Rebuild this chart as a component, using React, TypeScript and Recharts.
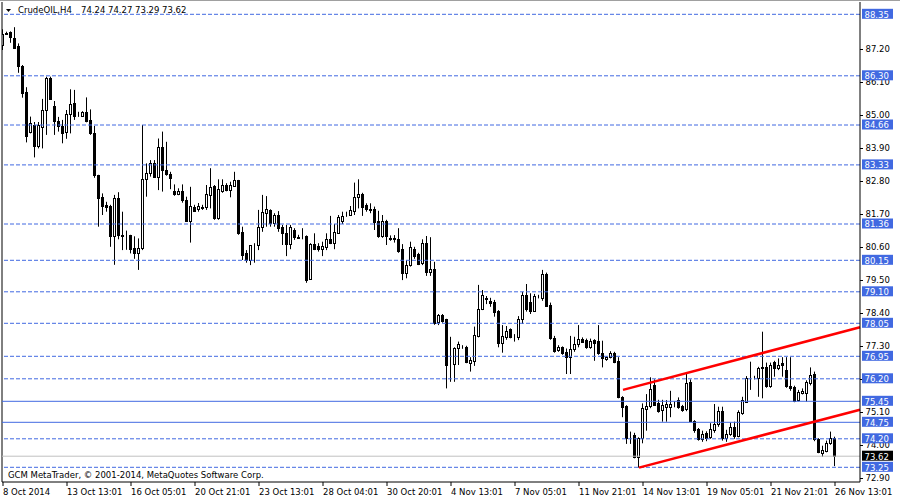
import React from 'react';
import { ComposedChart, Bar, XAxis, YAxis, ReferenceLine } from 'recharts';

const opens = [
  87.32, 87.73, 87.76, 87.55, 87.29, 86.63, 85.76, 84.42, 84.65, 83.97,
  84.60, 85.16, 86.24, 85.29, 84.79, 84.63, 84.42, 85.02, 85.38, 85.00,
  84.97, 85.08, 84.83, 84.38, 82.99, 82.27, 81.98, 81.96, 80.96, 82.22,
  80.99, 80.99, 80.99, 80.55, 80.38, 80.57, 82.85, 83.05, 83.38, 82.94,
  83.94, 83.16, 83.03, 82.45, 82.37, 82.45, 82.15, 81.46, 81.94, 81.85,
  81.92, 81.92, 82.33, 82.62, 81.55, 82.47, 82.66, 82.49, 82.64, 82.83,
  81.09, 80.38, 80.16, 80.66, 80.66, 81.25, 81.72, 81.83, 81.40, 81.66,
  81.25, 81.05, 80.69, 81.16, 80.92, 80.91, 80.96, 79.52, 80.69, 80.63,
  80.52, 80.60, 80.85, 80.74, 81.07, 81.47, 81.66, 81.66, 81.81, 82.25,
  82.36, 82.00, 81.85, 81.85, 81.47, 80.96, 81.47, 80.88, 80.90, 80.85,
  80.52, 79.72, 79.99, 80.52, 80.35, 80.05, 80.74, 79.77, 79.85, 78.10,
  78.33, 78.18, 76.69, 76.69, 77.22, 77.27, 77.27, 76.74, 76.80, 77.63,
  78.52, 78.86, 78.80, 78.75, 78.47, 77.40, 77.60, 77.85, 77.63, 77.58,
  78.21, 78.99, 78.77, 78.47, 78.94, 78.88, 79.69, 78.66, 77.55, 77.16,
  77.25, 77.10, 76.92, 77.21, 77.36, 77.52, 77.49, 77.25, 77.49, 77.47,
  77.07, 76.85, 76.93, 77.05, 76.79, 75.58, 75.29, 74.33, 74.33, 73.58,
  74.22, 75.18, 75.29, 75.99, 75.40, 75.16, 75.27, 75.27, 75.36, 75.50,
  75.29, 75.18, 76.10, 74.80, 74.52, 74.18, 74.38, 74.25, 74.49, 74.69,
  75.14, 74.22, 74.36, 74.58, 74.29, 75.07, 75.44, 76.25, 76.25, 76.22,
  76.55, 76.58, 75.97, 76.76, 76.57, 76.74, 76.49, 75.97, 75.94, 75.50,
  75.72, 75.74, 76.05, 76.36, 74.18, 73.74, 73.80, 74.05, 74.24,
];
const highs = [
  87.85, 87.77, 87.78, 87.92, 87.38, 86.66, 85.92, 84.94, 84.76, 84.76,
  85.53, 86.27, 86.27, 85.46, 84.93, 84.83, 85.16, 85.85, 85.83, 85.10,
  85.12, 85.58, 85.18, 84.63, 83.00, 82.38, 82.10, 82.00, 82.33, 82.42,
  81.77, 81.14, 81.00, 80.95, 80.88, 84.66, 83.38, 83.49, 83.49, 84.21,
  84.44, 84.10, 83.10, 82.68, 82.55, 82.68, 82.27, 82.60, 82.00, 82.06,
  82.00, 82.66, 83.22, 82.66, 82.85, 82.85, 82.72, 82.77, 83.10, 82.83,
  81.27, 80.49, 80.66, 80.72, 81.83, 82.33, 82.29, 81.85, 81.72, 81.79,
  81.33, 81.33, 81.33, 81.22, 81.00, 81.22, 80.98, 80.72, 81.05, 80.72,
  80.77, 81.05, 81.63, 81.36, 81.66, 81.77, 81.77, 81.96, 82.74, 82.85,
  82.40, 82.05, 82.05, 81.94, 81.80, 81.66, 81.50, 80.98, 80.99, 81.22,
  80.69, 80.16, 80.77, 80.60, 80.40, 80.85, 80.96, 80.92, 80.10, 78.36,
  78.36, 78.20, 77.60, 77.25, 77.44, 77.32, 77.30, 76.92, 77.94, 79.33,
  79.16, 78.96, 78.90, 78.83, 78.49, 77.99, 77.96, 77.88, 77.69, 78.29,
  79.10, 79.36, 79.05, 79.03, 79.00, 79.83, 79.74, 78.74, 77.63, 77.32,
  77.28, 77.21, 77.63, 77.60, 77.99, 77.58, 77.54, 77.54, 77.52, 77.99,
  77.47, 76.95, 77.12, 77.10, 76.92, 75.62, 75.32, 74.44, 74.40, 74.25,
  75.38, 75.69, 76.25, 76.18, 75.50, 75.50, 75.49, 75.80, 75.45, 75.58,
  75.33, 76.36, 76.18, 74.82, 74.56, 74.47, 74.45, 74.72, 75.36, 75.27,
  75.27, 74.50, 74.74, 74.77, 75.15, 75.60, 76.29, 76.77, 76.30, 76.60,
  77.77, 76.74, 76.74, 76.80, 76.88, 76.92, 76.92, 76.92, 75.97, 75.83,
  75.88, 76.15, 76.58, 76.44, 74.22, 73.97, 74.14, 74.44, 74.27,
];
const lows = [
  87.16, 87.66, 87.40, 87.20, 86.40, 85.57, 84.08, 84.38, 83.58, 83.88,
  83.88, 84.33, 85.50, 84.33, 84.44, 84.05, 84.20, 84.38, 84.83, 84.93,
  84.94, 84.75, 84.33, 82.90, 81.27, 81.66, 81.77, 80.60, 80.00, 80.85,
  80.49, 80.50, 80.38, 80.20, 79.83, 80.49, 82.27, 82.94, 82.90, 82.49,
  82.44, 82.97, 82.52, 82.30, 82.32, 82.07, 81.44, 80.74, 81.77, 81.77,
  81.83, 81.83, 81.88, 81.50, 81.50, 82.40, 82.45, 82.25, 82.60, 81.00,
  80.16, 80.07, 79.99, 80.07, 80.49, 81.10, 81.27, 81.27, 81.27, 81.10,
  80.66, 80.29, 80.52, 80.83, 80.86, 80.85, 79.40, 79.50, 80.49, 80.44,
  80.29, 80.49, 80.69, 80.52, 81.05, 81.36, 81.60, 81.63, 81.66, 81.88,
  81.63, 81.77, 81.72, 81.16, 80.90, 80.90, 80.66, 80.80, 80.74, 80.40,
  79.49, 79.55, 79.94, 80.20, 79.99, 79.99, 79.63, 79.63, 78.00, 77.99,
  78.07, 75.88, 76.10, 76.10, 76.66, 77.20, 76.72, 76.44, 76.63, 77.58,
  78.49, 78.69, 78.60, 78.27, 77.25, 77.07, 77.50, 77.55, 77.44, 77.49,
  78.03, 78.44, 78.36, 78.44, 78.88, 78.80, 78.60, 77.50, 77.07, 77.10,
  77.00, 76.36, 76.36, 77.10, 77.25, 77.40, 77.20, 77.20, 76.80, 77.00,
  76.58, 76.80, 76.88, 76.72, 75.55, 74.92, 74.03, 74.03, 73.55, 73.24,
  74.05, 74.47, 75.22, 75.30, 75.07, 74.77, 74.77, 74.92, 75.25, 75.20,
  75.10, 75.12, 74.78, 74.40, 74.14, 74.10, 74.12, 74.20, 74.40, 74.60,
  74.14, 74.10, 74.30, 74.20, 74.25, 75.00, 75.40, 75.83, 76.18, 75.60,
  75.55, 75.90, 75.90, 76.27, 76.49, 76.27, 75.90, 75.80, 75.42, 75.45,
  75.68, 75.44, 75.98, 74.12, 73.72, 73.60, 73.75, 74.00, 73.29,
];
const closes = [
  87.69, 87.70, 87.58, 87.23, 86.64, 85.74, 84.30, 84.72, 83.97, 84.65,
  85.16, 86.24, 85.54, 84.80, 84.63, 84.40, 85.02, 85.35, 84.96, 84.98,
  85.08, 84.80, 84.38, 82.99, 82.24, 81.96, 81.94, 80.96, 82.24, 80.99,
  80.97, 80.98, 80.52, 80.38, 80.57, 82.85, 83.05, 83.38, 82.94, 83.94,
  83.16, 83.03, 82.90, 82.37, 82.45, 82.15, 81.46, 81.96, 81.80, 81.96,
  81.91, 82.36, 82.60, 81.55, 82.52, 82.66, 82.49, 82.66, 82.83, 81.05,
  80.33, 80.16, 80.66, 80.67, 81.25, 81.75, 81.85, 81.40, 81.66, 81.22,
  81.05, 80.69, 81.25, 80.92, 80.91, 80.90, 79.49, 80.69, 80.52, 80.52,
  80.63, 80.85, 80.72, 81.10, 81.58, 81.63, 81.67, 81.83, 82.25, 82.36,
  81.92, 81.85, 81.84, 81.44, 80.96, 81.47, 80.96, 80.87, 80.85, 80.47,
  79.72, 79.99, 80.58, 80.29, 80.03, 80.72, 79.77, 79.85, 78.07, 78.33,
  78.14, 76.66, 76.70, 77.22, 77.36, 77.26, 76.75, 76.83, 77.66, 78.52,
  78.99, 78.88, 78.74, 78.44, 77.38, 77.63, 77.80, 77.58, 77.62, 78.21,
  78.99, 78.52, 78.47, 78.96, 78.93, 79.69, 78.63, 77.55, 77.14, 77.25,
  77.07, 76.92, 77.21, 77.36, 77.52, 77.44, 77.25, 77.47, 77.38, 77.07,
  76.90, 76.93, 77.06, 76.76, 75.58, 75.25, 74.22, 74.32, 73.60, 74.22,
  75.22, 75.29, 75.85, 75.33, 75.14, 75.33, 75.36, 75.36, 75.37, 75.27,
  75.16, 76.07, 74.80, 74.49, 74.18, 74.36, 74.24, 74.52, 74.69, 75.14,
  74.22, 74.36, 74.58, 74.29, 75.10, 75.49, 76.22, 76.27, 76.26, 76.55,
  76.58, 75.97, 76.66, 76.55, 76.66, 76.66, 75.97, 75.88, 75.47, 75.77,
  75.80, 76.10, 76.33, 74.18, 73.77, 73.83, 74.05, 74.22, 73.62,
];

const xTickIdx = [0, 16, 32, 48, 64, 80, 96, 112, 128, 144, 160, 176, 192, 208];
const xTickLabels = [
  '8 Oct 2014', '13 Oct 13:01', '16 Oct 05:01', '20 Oct 21:01', '23 Oct 13:01',
  '28 Oct 04:01', '30 Oct 20:01', '4 Nov 13:01', '7 Nov 05:01', '11 Nov 21:01',
  '14 Nov 13:01', '19 Nov 05:01', '21 Nov 21:01', '26 Nov 13:01',
];
const yTicks = [72.9, 74.0, 75.1, 76.2, 77.3, 78.4, 79.5, 80.6, 81.7, 82.8, 83.9, 85.0, 86.1, 87.2];
const dashedLevels = [88.35, 86.3, 84.66, 83.33, 81.36, 80.15, 79.1, 78.05, 76.95, 76.2, 74.2, 73.25];
const solidLevels = [75.45, 74.75];
const lastPrice = 73.62;
const upperTrend = [{ x: 155, y: 75.83 }, { x: 214.25, y: 77.92 }];
const lowerTrend = [{ x: 159, y: 73.24 }, { x: 214.25, y: 75.17 }];

const data = opens.map((o, i) => ({
  i,
  o,
  h: highs[i],
  l: lows[i],
  c: closes[i],
  range: [lows[i], highs[i]],
}));

const FONT = 'DejaVu Sans';
const BLUE = '#4169E1';

const near = (a: number, b: number) => Math.abs(a - b) < 1e-6;
const levelBg = (v: number): string | null => {
  if (near(v, lastPrice)) return '#000';
  if (dashedLevels.some((d) => near(d, v)) || solidLevels.some((d) => near(d, v))) return BLUE;
  return null;
};
const regularTicks = yTicks.filter((t) => !levelBg(t));
const hiddenTickMarks = yTicks.filter((t) => levelBg(t));
const axisTicks = [...regularTicks, ...dashedLevels, ...solidLevels, lastPrice];

const Candle = (props: any) => {
  const { x, y, width, height, payload } = props;
  if (!payload || x == null) return null;
  const { o, h, l, c } = payload;
  const s = height / (h - l);
  const py = (p: number) => y + (h - p) * s;
  const cx = Math.floor(x + width / 2) + 0.5;
  const top = Math.round(py(Math.max(o, c))) + 0.5;
  let bot = Math.round(py(Math.min(o, c))) + 0.5;
  if (bot < top) bot = top;
  const up = c >= o;
  return (
    <g>
      <line x1={cx} x2={cx} y1={y} y2={y + height} stroke="#000" strokeWidth={1} />
      <rect
        x={cx - 1}
        y={top}
        width={2}
        height={bot - top}
        fill={up ? '#fff' : '#000'}
        stroke="#000"
        strokeWidth={1}
      />
    </g>
  );
};

const YTick = (props: any) => {
  const { x, y, payload } = props;
  const v: number = payload.value;
  const bg = levelBg(v);
  const yy = Math.round(y) + 0.5;
  if (bg) {
    return (
      <g>
        {hiddenTickMarks.some((t) => near(t, v)) ? (
          <line x1={x} x2={x + 3} y1={yy} y2={yy} stroke="#000" />
        ) : null}
        <rect x={x + 2} y={y - 5.5} width={31} height={10} fill={bg} />
        <text x={x + 4.5} y={y + 3.3} fill="#fff" fontSize={8.5} fontFamily={FONT}>
          {v.toFixed(2)}
        </text>
      </g>
    );
  }
  return (
    <g>
      <line x1={x} x2={x + 3} y1={yy} y2={yy} stroke="#000" />
      <text x={x + 5.5} y={y + 3.2} fill="#000" fontSize={8.5} fontFamily={FONT}>
        {v.toFixed(2)}
      </text>
    </g>
  );
};

const XTick = (props: any) => {
  const { x, y, payload } = props;
  const idx = xTickIdx.indexOf(payload.value);
  return (
    <text x={x} y={y + 7} fill="#000" fontSize={8.5} fontFamily={FONT} textAnchor="start">
      {idx >= 0 ? xTickLabels[idx] : ''}
    </text>
  );
};

export default function App() {
  return (
    <div style={{ position: 'absolute', left: 0, top: 0, width: 900, height: 500, background: '#fff' }}>
      <ComposedChart
        width={900}
        height={500}
        data={data}
        margin={{ top: 2, right: 0, bottom: 0, left: 2 }}
      >
        <XAxis
          dataKey="i"
          type="number"
          domain={[-0.25, 214.25]}
          ticks={xTickIdx}
          interval={0}
          height={18}
          tickSize={4}
          allowDataOverflow
          axisLine={{ stroke: '#000' }}
          tickLine={{ stroke: '#000' }}
          tick={<XTick />}
        />
        <YAxis
          orientation="right"
          type="number"
          domain={[72.76, 88.76]}
          ticks={axisTicks}
          interval={0}
          width={40}
          tickSize={0}
          tickMargin={0}
          allowDataOverflow
          axisLine={{ stroke: '#000' }}
          tickLine={false}
          tick={<YTick />}
        />
        <ReferenceLine x={-0.25} stroke="#000" />
        <Bar dataKey="range" barSize={3} shape={<Candle />} isAnimationActive={false} />
        {dashedLevels.map((v) => (
          <ReferenceLine key={'d' + v} y={v} stroke={BLUE} strokeDasharray="4 2" />
        ))}
        {solidLevels.map((v) => (
          <ReferenceLine key={'s' + v} y={v} stroke={BLUE} />
        ))}
        <ReferenceLine y={lastPrice} stroke="#C0C0C0" />
        <ReferenceLine segment={upperTrend} stroke="#FF0000" strokeWidth={2.5} ifOverflow="visible" />
        <ReferenceLine segment={lowerTrend} stroke="#FF0000" strokeWidth={2.5} ifOverflow="visible" />
      </ComposedChart>
      <svg
        width={900}
        height={500}
        style={{ position: 'absolute', left: 0, top: 0, pointerEvents: 'none' }}
      >
        <line x1={0} x2={900} y1={0.5} y2={0.5} stroke="#a0a0a0" />
        <polygon points="6,9 11,9 8.5,12" fill="#000" />
        <text x={18} y={13} fontSize={8.5} fontFamily={FONT} fill="#000">
          CrudeOIL,H4
        </text>
        <text x={81} y={13} fontSize={8.5} fontFamily={FONT} fill="#000">
          74.24 74.27 73.29 73.62
        </text>
        <text x={8} y={478} fontSize={8.5} fontFamily={FONT} fill="#000">
          GCM MetaTrader, © 2001-2014, MetaQuotes Software Corp.
        </text>
      </svg>
    </div>
  );
}
